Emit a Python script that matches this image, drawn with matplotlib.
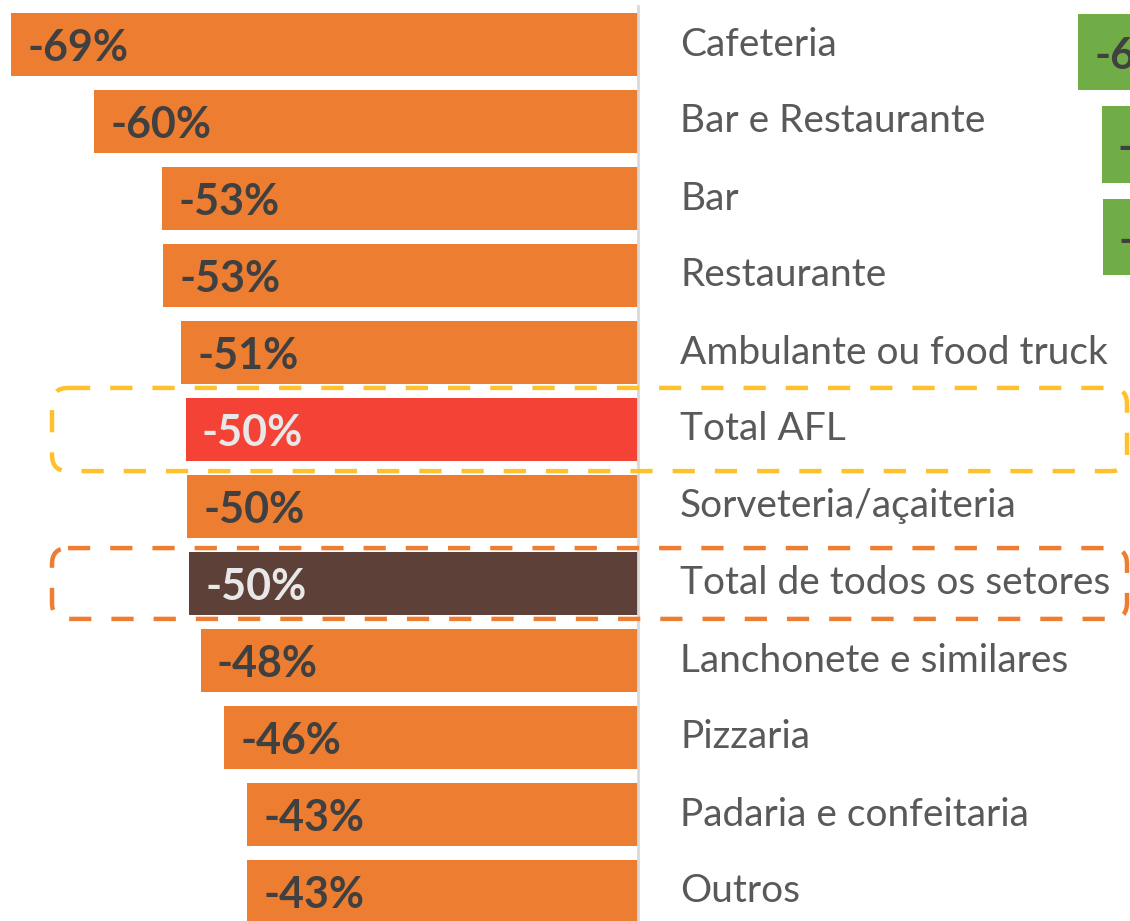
import matplotlib
matplotlib.use("Agg")
from matplotlib import pyplot as plt
from matplotlib.patches import FancyBboxPatch

plt.rcParams['font.family'] = ['Lato', 'DejaVu Sans']

# dados
categorias = ['Cafeteria', 'Bar e Restaurante', 'Bar', 'Restaurante',
              'Ambulante ou food truck', 'Total AFL', 'Sorveteria/açaiteria',
              'Total de todos os setores', 'Lanchonete e similares',
              'Pizzaria', 'Padaria e confeitaria', 'Outros']
variacao = [-69.4, -60.2, -52.7, -52.6, -50.6, -50.1, -49.9, -49.7,
            -48.4, -45.8, -43.3, -43.3]
# painel verde (cortado na borda direita)
variacao_verde = [-62.0, -59.4, -59.3]

LARANJA = '#ED7D31'
cores = {'Total AFL': '#F44336', 'Total de todos os setores': '#5D4037'}
destaque = {'Total AFL': '#FFC12B', 'Total de todos os setores': '#ED7D31'}

W, H = 1130, 921
PX = 9.03      # px por ponto percentual
ZERO = 638     # px do eixo zero
PASSO = 77     # px por linha
Y0 = 44.5

fig = plt.figure(figsize=(W / 100, H / 100), dpi=100)
ax = fig.add_axes([0, 0, 1, 1])
ax.set_xlim(-ZERO / PX, (W - ZERO) / PX)
ax.set_ylim((H - Y0) / PASSO, -Y0 / PASSO)
ax.axis('off')

ys = range(len(categorias))
ax.barh(ys, variacao, height=0.82,
        color=[cores.get(c, LARANJA) for c in categorias], zorder=2)
ax.plot([0, 0], [-0.5, len(categorias)], color='#D9D9D9', lw=2, zorder=3)

for y, c, v in zip(ys, categorias, variacao):
    claro = c in cores
    ax.text(v + 16 / PX, y + 0.04, f'{v:.0f}%', ha='left', va='center',
            fontsize=31, fontweight='bold',
            color='#E8E8E8' if claro else '#404040', zorder=4)
    ax.text(42 / PX, y, c, ha='left', va='center', fontsize=28,
            color='#595959', zorder=4)
    if c in destaque:
        x0 = (52 - ZERO) / PX
        x1 = (1127 - ZERO) / PX
        h = 0.54 if c == 'Total AFL' else 0.46
        box = FancyBboxPatch((x0, y - h), x1 - x0, 2 * h,
                             boxstyle='round,pad=0,rounding_size=%.2f' % (16 / PX),
                             mutation_aspect=PX / PASSO,
                             fill=False, ec=destaque[c], lw=3.2,
                             ls=(0, (5, 4.5)), zorder=5, clip_on=False)
        ax.add_patch(box)

# segundo painel, parcialmente visivel
Z2 = 1638
P2 = 92.5
ax2 = fig.add_axes([1000 / W, 0, 130 / W, 1])
ax2.set_xlim((1000 - Z2) / PX, (W - Z2) / PX)
ax2.set_ylim((H - 52) / P2, -52 / P2)
ax2.axis('off')
ax2.barh(range(len(variacao_verde)), variacao_verde, height=0.83,
         color='#70AD47')
for y, v in enumerate(variacao_verde):
    ax2.text(v + 16 / PX, y + 0.04, f'{v:.0f}%', ha='left', va='center',
             fontsize=31, fontweight='bold', color='#404040')

fig.savefig('out.png', dpi=100)
